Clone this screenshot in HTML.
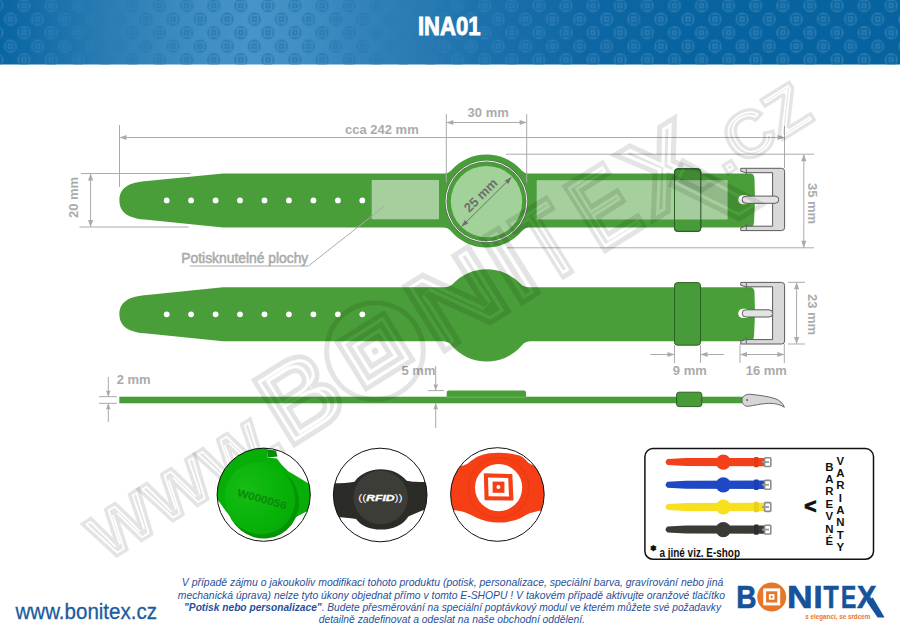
<!DOCTYPE html>
<html lang="cs"><head><meta charset="utf-8"><title>INA01</title>
<style>html,body{margin:0;padding:0;background:#fff}body{width:900px;height:633px;overflow:hidden;position:relative;font-family:"Liberation Sans", Arial, sans-serif}svg{display:block;position:absolute;left:0;top:0}text{font-family:"Liberation Sans", Arial, sans-serif}</style>
</head><body>
<svg width="900" height="633" viewBox="0 0 900 633">
<defs>
<linearGradient id="hg" x1="0" y1="0" x2="1" y2="0"><stop offset="0" stop-color="#0865a3"/><stop offset="0.117" stop-color="#2a7cb3"/><stop offset="0.20" stop-color="#3c8bc0"/><stop offset="0.28" stop-color="#4893c7"/><stop offset="0.33" stop-color="#428fc4"/><stop offset="0.38" stop-color="#3787be"/><stop offset="0.453" stop-color="#2a7cb3"/><stop offset="0.55" stop-color="#1a70ab"/><stop offset="0.65" stop-color="#0e67a4"/><stop offset="0.75" stop-color="#0864a0"/><stop offset="1" stop-color="#06639f"/></linearGradient>
<pattern id="pt" x="10.45" y="-7.8" width="27.1" height="27" patternUnits="userSpaceOnUse">
<path d="M6.85,13.5a6.7,6.7 0 1,0 13.4,0a6.7,6.7 0 1,0 -13.4,0zM9.30,9.25h8.50v8.50h-8.50zM10.65,10.60h5.80v5.80h-5.80zM12.75,12.70h1.60v1.60h-1.60z" fill="#2a7cb3" fill-opacity="0.85" fill-rule="evenodd"/>
<path d="M-6.70,27a6.7,6.7 0 1,0 13.4,0a6.7,6.7 0 1,0 -13.4,0zM-4.25,22.75h8.50v8.50h-8.50zM-2.90,24.10h5.80v5.80h-5.80zM-0.80,26.20h1.60v1.60h-1.60z" fill="#2a7cb3" fill-opacity="0.85" fill-rule="evenodd"/>
<path d="M20.40,27a6.7,6.7 0 1,0 13.4,0a6.7,6.7 0 1,0 -13.4,0zM22.85,22.75h8.50v8.50h-8.50zM24.20,24.10h5.80v5.80h-5.80zM26.30,26.20h1.60v1.60h-1.60z" fill="#2a7cb3" fill-opacity="0.85" fill-rule="evenodd"/>
<path d="M-6.70,0a6.7,6.7 0 1,0 13.4,0a6.7,6.7 0 1,0 -13.4,0zM-4.25,-4.25h8.50v8.50h-8.50zM-2.90,-2.90h5.80v5.80h-5.80zM-0.80,-0.80h1.60v1.60h-1.60z" fill="#2a7cb3" fill-opacity="0.85" fill-rule="evenodd"/>
<path d="M20.40,0a6.7,6.7 0 1,0 13.4,0a6.7,6.7 0 1,0 -13.4,0zM22.85,-4.25h8.50v8.50h-8.50zM24.20,-2.90h5.80v5.80h-5.80zM26.30,-0.80h1.60v1.60h-1.60z" fill="#2a7cb3" fill-opacity="0.85" fill-rule="evenodd"/>
</pattern>
<clipPath id="c1"><circle cx="263.7" cy="494.7" r="46.6"/></clipPath>
<clipPath id="c2"><circle cx="380.2" cy="495" r="46.8"/></clipPath>
<clipPath id="c3"><circle cx="497.4" cy="494.5" r="46.8"/></clipPath>
</defs>
<rect x="0" y="0" width="900" height="64.5" fill="url(#hg)"/>
<rect x="0" y="0" width="900" height="64.5" fill="url(#pt)"/>
<text x="449.2" y="34.8" font-size="25.7" font-weight="700" fill="#fff" stroke="#fff" stroke-width="0.9" text-anchor="middle" textLength="62.5" lengthAdjust="spacingAndGlyphs">INA01</text>
<line x1="119.5" y1="125" x2="119.5" y2="187" stroke="#ababab" stroke-width="1"/>
<line x1="784.5" y1="126" x2="784.5" y2="168" stroke="#ababab" stroke-width="1"/>
<line x1="119.5" y1="137.5" x2="784.5" y2="137.5" stroke="#ababab" stroke-width="1"/>
<polygon points="119.5,137.5 126.5,134.9 126.5,140.1" fill="#ababab"/>
<polygon points="784.5,137.5 777.5,140.1 777.5,134.9" fill="#ababab"/>
<text x="345" y="134.2" font-size="13" font-weight="700" fill="#ababab">cca 242 mm</text>
<line x1="446.3" y1="122.5" x2="526.7" y2="122.5" stroke="#ababab" stroke-width="1"/>
<polygon points="446.3,122.5 453.3,119.9 453.3,125.1" fill="#ababab"/>
<polygon points="526.7,122.5 519.7,125.1 519.7,119.9" fill="#ababab"/>
<text x="488.2" y="117.2" font-size="13" font-weight="700" fill="#ababab" text-anchor="middle">30 mm</text>
<line x1="81" y1="173.5" x2="190.5" y2="173.5" stroke="#ababab" stroke-width="1"/>
<line x1="79.5" y1="227" x2="188.5" y2="227" stroke="#ababab" stroke-width="1"/>
<line x1="90.6" y1="173.5" x2="90.6" y2="227" stroke="#ababab" stroke-width="1"/>
<polygon points="90.6,173.5 93.2,180.5 88.0,180.5" fill="#ababab"/>
<polygon points="90.6,227.0 88.0,220.0 93.2,220.0" fill="#ababab"/>
<text transform="translate(78.4,197.5) rotate(-90)" font-size="13" font-weight="700" fill="#ababab" text-anchor="middle">20 mm</text>
<line x1="506" y1="154.2" x2="814" y2="154.2" stroke="#ababab" stroke-width="1"/>
<line x1="507" y1="247.8" x2="814" y2="247.8" stroke="#ababab" stroke-width="1"/>
<line x1="803.8" y1="154.2" x2="803.8" y2="247.8" stroke="#ababab" stroke-width="1"/>
<polygon points="803.8,154.2 806.4,161.2 801.2,161.2" fill="#ababab"/>
<polygon points="803.8,247.8 801.2,240.8 806.4,240.8" fill="#ababab"/>
<text transform="translate(808.3,203.5) rotate(90)" font-size="13" font-weight="700" fill="#ababab" text-anchor="middle">35 mm</text>
<line x1="788" y1="282.3" x2="805" y2="282.3" stroke="#ababab" stroke-width="1"/>
<line x1="788" y1="344" x2="805" y2="344" stroke="#ababab" stroke-width="1"/>
<line x1="796.6" y1="282.3" x2="796.6" y2="344" stroke="#ababab" stroke-width="1"/>
<polygon points="796.6,282.3 799.2,289.3 794.0,289.3" fill="#ababab"/>
<polygon points="796.6,344.0 794.0,337.0 799.2,337.0" fill="#ababab"/>
<text transform="translate(808.3,314.5) rotate(90)" font-size="13" font-weight="700" fill="#ababab" text-anchor="middle">23 mm</text>
<line x1="674.5" y1="345" x2="674.5" y2="363" stroke="#ababab" stroke-width="1"/>
<line x1="700.5" y1="345" x2="700.5" y2="363" stroke="#ababab" stroke-width="1"/>
<line x1="650.3" y1="354.5" x2="674.5" y2="354.5" stroke="#ababab" stroke-width="1"/>
<line x1="700.5" y1="354.5" x2="724" y2="354.5" stroke="#ababab" stroke-width="1"/>
<polygon points="674.5,354.5 667.5,357.1 667.5,351.9" fill="#ababab"/>
<polygon points="700.5,354.5 707.5,351.9 707.5,357.1" fill="#ababab"/>
<text x="689.8" y="375.3" font-size="13" font-weight="700" fill="#ababab" text-anchor="middle">9 mm</text>
<line x1="740" y1="344" x2="740" y2="363" stroke="#ababab" stroke-width="1"/>
<line x1="784.3" y1="344" x2="784.3" y2="363" stroke="#ababab" stroke-width="1"/>
<line x1="740" y1="354.5" x2="784.3" y2="354.5" stroke="#ababab" stroke-width="1"/>
<polygon points="740.0,354.5 747.0,351.9 747.0,357.1" fill="#ababab"/>
<polygon points="784.3,354.5 777.3,357.1 777.3,351.9" fill="#ababab"/>
<text x="766.3" y="375.3" font-size="13" font-weight="700" fill="#ababab" text-anchor="middle">16 mm</text>
<line x1="99" y1="396.7" x2="117" y2="396.7" stroke="#ababab" stroke-width="1"/>
<line x1="99" y1="403.3" x2="117" y2="403.3" stroke="#ababab" stroke-width="1"/>
<line x1="108.3" y1="377" x2="108.3" y2="396.7" stroke="#ababab" stroke-width="1"/>
<line x1="108.3" y1="403.3" x2="108.3" y2="422" stroke="#ababab" stroke-width="1"/>
<polygon points="108.3,396.7 106.0,390.7 110.6,390.7" fill="#ababab"/>
<polygon points="108.3,403.3 110.6,409.3 106.0,409.3" fill="#ababab"/>
<text x="116.7" y="383.7" font-size="13" font-weight="700" fill="#ababab">2 mm</text>
<line x1="428" y1="390.6" x2="444" y2="390.6" stroke="#ababab" stroke-width="1"/>
<line x1="435.7" y1="366" x2="435.7" y2="390.6" stroke="#ababab" stroke-width="1"/>
<line x1="435.7" y1="403.3" x2="435.7" y2="428" stroke="#ababab" stroke-width="1"/>
<polygon points="435.7,390.6 433.4,384.6 438.0,384.6" fill="#ababab"/>
<polygon points="435.7,403.3 438.0,409.3 433.4,409.3" fill="#ababab"/>
<text x="401.5" y="374.7" font-size="13" font-weight="700" fill="#ababab">5 mm</text>
<text x="181.3" y="262.9" font-size="14.4" fill="#ababab" stroke="#ababab" stroke-width="0.55" textLength="127" lengthAdjust="spacingAndGlyphs">Potisknutelné plochy</text>
<path d="M223,173.4 L445.00,173.4 A8,8 0 0 0 451.07,170.62 A46.6,46.6 0 0 1 521.73,170.62 A8,8 0 0 0 527.80,173.4 L750.5,173.4 Q754.0,173.4 754.5,178.4 L755.0,200.4 L754.0,222.4 Q753.5,227.4 749.5,227.4 L528.80,227.4 A8,8 0 0 0 522.59,230.36 A46.6,46.6 0 0 1 450.21,230.36 A8,8 0 0 0 444.00,227.4 L223,227.4 L147,219.70000000000002 C129,218.5 119.4,212.9 119.4,200.4 C119.4,187.9 129,182.3 147,181.1 Z" fill="#4a9e39"/>
<circle cx="166.7" cy="200.4" r="2.9" fill="#fff"/>
<circle cx="191.1" cy="200.4" r="2.9" fill="#fff"/>
<circle cx="215.6" cy="200.4" r="2.9" fill="#fff"/>
<circle cx="240.0" cy="200.4" r="2.9" fill="#fff"/>
<circle cx="264.5" cy="200.4" r="2.9" fill="#fff"/>
<circle cx="288.9" cy="200.4" r="2.9" fill="#fff"/>
<circle cx="313.4" cy="200.4" r="2.9" fill="#fff"/>
<circle cx="337.9" cy="200.4" r="2.9" fill="#fff"/>
<circle cx="362.3" cy="200.4" r="2.9" fill="#fff"/>
<rect x="674.5" y="168.8" width="26.3" height="62.6" rx="3" fill="#479b38" stroke="#2c5f25" stroke-width="1"/>
<rect x="371.7" y="180" width="67.3" height="39.3" fill="#fff" fill-opacity="0.5"/>
<rect x="536.7" y="180.2" width="190.9" height="39.3" fill="#fff" fill-opacity="0.5"/>
<line x1="446.3" y1="114" x2="446.3" y2="182.5" stroke="#ababab" stroke-width="1"/>
<line x1="526.7" y1="114" x2="526.7" y2="182.5" stroke="#ababab" stroke-width="1"/>
<circle cx="486.4" cy="201.4" r="40.4" fill="none" stroke="#5a6b55" stroke-width="2.2"/>
<circle cx="486.4" cy="201.4" r="40.4" fill="none" stroke="#f4f6f2" stroke-width="1"/>
<circle cx="486.5" cy="201.6" r="35.7" fill="#a3d19a"/>
<line x1="461.6" y1="226.6" x2="511.5" y2="177.2" stroke="#6f6f6f" stroke-width="1"/>
<polygon points="461.6,226.6 464.8,219.9 468.3,223.4" fill="#6f6f6f"/>
<polygon points="511.5,177.2 508.3,183.9 504.8,180.4" fill="#6f6f6f"/>
<text transform="translate(483.9,198.5) rotate(-45)" font-size="13" font-weight="700" fill="#6f6f6f" text-anchor="middle">25 mm</text>
<polyline points="189.6,266 308.4,266 384,206.5" fill="none" stroke="#ababab" stroke-width="1"/>
<rect x="674.5" y="168.8" width="26.3" height="62.6" rx="3" fill="none" stroke="#2c5f25" stroke-width="1"/>
<rect x="738.2" y="195.1" width="12" height="9.2" rx="4.6" fill="#fff"/><path d="M740.8,168.3 L781.6,168.3 Q784.6,168.3 784.6,171.3 L784.6,227.6 Q784.6,230.6 781.6,230.6 L740.8,230.6 L740.8,227.7 L745.8,226.2 L772.6,226.2 L772.6,172.70000000000002 L745.8,172.70000000000002 L740.8,171.20000000000002 Z" fill="#d9d9d9" stroke="#5b5b5b" stroke-width="1" stroke-linejoin="round"/><line x1="746.3" y1="168.8" x2="746.3" y2="174.70000000000002" stroke="#5b5b5b" stroke-width="0.9"/><line x1="746.3" y1="230.1" x2="746.3" y2="224.2" stroke="#5b5b5b" stroke-width="0.9"/><rect x="742.2" y="196.1" width="36.5" height="7.2" rx="3.6" fill="#e3e3e3" stroke="#5b5b5b" stroke-width="1"/>
<path d="M223,287.3 L444.52,287.3 A12,12 0 0 0 453.22,283.57 A46.2,46.2 0 0 1 520.18,283.57 A12,12 0 0 0 528.88,287.3 L750.5,287.3 Q754.0,287.3 754.5,292.3 L755.0,314.3 L754.0,336.3 Q753.5,341.3 749.5,341.3 L530.87,341.3 A12,12 0 0 0 521.76,345.49 A46.2,46.2 0 0 1 451.64,345.49 A12,12 0 0 0 442.53,341.3 L223,341.3 L147,333.59999999999997 C129,332.4 119.4,326.8 119.4,314.3 C119.4,301.8 129,296.20000000000005 147,295.00000000000006 Z" fill="#4a9e39"/>
<circle cx="166.7" cy="314.3" r="2.9" fill="#fff"/>
<circle cx="191.1" cy="314.3" r="2.9" fill="#fff"/>
<circle cx="215.6" cy="314.3" r="2.9" fill="#fff"/>
<circle cx="240.0" cy="314.3" r="2.9" fill="#fff"/>
<circle cx="264.5" cy="314.3" r="2.9" fill="#fff"/>
<circle cx="288.9" cy="314.3" r="2.9" fill="#fff"/>
<circle cx="313.4" cy="314.3" r="2.9" fill="#fff"/>
<circle cx="337.9" cy="314.3" r="2.9" fill="#fff"/>
<circle cx="362.3" cy="314.3" r="2.9" fill="#fff"/>
<rect x="674.5" y="282.6" width="26" height="62.6" rx="3" fill="#479b38" stroke="#2c5f25" stroke-width="1"/>
<rect x="738.2" y="308.79999999999995" width="12" height="9.2" rx="4.6" fill="#fff"/><path d="M740.8,282.4 L781.6,282.4 Q784.6,282.4 784.6,285.4 L784.6,341 Q784.6,344 781.6,344 L740.8,344 L740.8,341.1 L745.8,339.6 L772.6,339.6 L772.6,286.79999999999995 L745.8,286.79999999999995 L740.8,285.29999999999995 Z" fill="#d9d9d9" stroke="#5b5b5b" stroke-width="1" stroke-linejoin="round"/><line x1="746.3" y1="282.9" x2="746.3" y2="288.79999999999995" stroke="#5b5b5b" stroke-width="0.9"/><line x1="746.3" y1="343.5" x2="746.3" y2="337.6" stroke="#5b5b5b" stroke-width="0.9"/><rect x="742.2" y="309.79999999999995" width="30.5" height="7.2" rx="3.6" fill="#e3e3e3" stroke="#5b5b5b" stroke-width="1"/>
<rect x="119.3" y="396.7" width="624" height="6.6" fill="#4a9e39"/>
<path d="M446.7,397.4 L446.7,392.6 Q446.7,390.6 448.7,390.6 L524,390.6 Q526,390.6 526,392.6 L526,397.4 Z" fill="#4a9e39"/>
<line x1="447" y1="397.2" x2="526" y2="397.2" stroke="#7fc070" stroke-width="0.7"/>
<rect x="676.6" y="392.2" width="25.2" height="14.4" rx="2.5" fill="#479b38" stroke="#2c5f25" stroke-width="1"/>
<path d="M742,399.8 C742.5,396 746,394 750,394.3 C758,394.9 768,396.4 775,398.6 C780,400.3 783,403.5 784.4,407.2 C780,404.6 775,403.2 769,403.3 C761,403.6 754,405.6 748,406.3 C744.5,406.6 741.8,403.5 742,399.8 Z" fill="#d6d6d6" stroke="#5b5b5b" stroke-width="0.9"/>
<circle cx="747.2" cy="400" r="0.9" fill="#555"/><mask id="wmm" maskUnits="userSpaceOnUse" x="0" y="0" width="900" height="633"><rect width="900" height="633" fill="#000"/><g transform="translate(106.2,562.6) rotate(-32.0)"><text x="0" y="0" font-size="66" font-weight="700" textLength="214" lengthAdjust="spacingAndGlyphs" fill="#fff" stroke="#000" stroke-width="6.8" stroke-linejoin="miter">WWW.</text><text x="729" y="0" font-size="66" font-weight="700" textLength="108" lengthAdjust="spacingAndGlyphs" fill="#fff" stroke="#000" stroke-width="6.8" stroke-linejoin="miter">.CZ</text><text x="215.1" y="0" font-size="110.4" font-weight="700" textLength="74.6" lengthAdjust="spacingAndGlyphs" fill="#fff" stroke="#000" stroke-width="11.2" stroke-linejoin="miter">B</text><text x="391.1" y="0" font-size="110.4" font-weight="700" textLength="91.6" lengthAdjust="spacingAndGlyphs" fill="#fff" stroke="#000" stroke-width="11.2" stroke-linejoin="miter">N</text><text x="482.0" y="0" font-size="110.4" font-weight="700" textLength="36.1" lengthAdjust="spacingAndGlyphs" fill="#fff" stroke="#000" stroke-width="11.2" stroke-linejoin="miter">I</text><text x="520.1" y="0" font-size="110.4" font-weight="700" textLength="47.7" lengthAdjust="spacingAndGlyphs" fill="#fff" stroke="#000" stroke-width="11.2" stroke-linejoin="miter">T</text><text x="582.4" y="0" font-size="110.4" font-weight="700" textLength="55.9" lengthAdjust="spacingAndGlyphs" fill="#fff" stroke="#000" stroke-width="11.2" stroke-linejoin="miter">E</text><text x="644.0" y="0" font-size="110.4" font-weight="700" textLength="77.1" lengthAdjust="spacingAndGlyphs" fill="#fff" stroke="#000" stroke-width="11.2" stroke-linejoin="miter">X</text><path d="M679,-21 L702,-35 L746,44 L719,44 Z" fill="#fff" stroke="#000" stroke-width="11.2" stroke-linejoin="miter"/></g></mask>
<g transform="translate(106.2,562.6) rotate(-32.0)"><text x="0" y="0" font-size="66" font-weight="700" textLength="214" lengthAdjust="spacingAndGlyphs" fill="none" stroke="#000" stroke-opacity="0.105" stroke-width="3.4" stroke-linejoin="miter" stroke-miterlimit="2.2">WWW.</text><text x="729" y="0" font-size="66" font-weight="700" textLength="108" lengthAdjust="spacingAndGlyphs" fill="none" stroke="#000" stroke-opacity="0.105" stroke-width="3.4" stroke-linejoin="miter" stroke-miterlimit="2.2">.CZ</text><text x="215.1" y="0" font-size="110.4" font-weight="700" textLength="74.6" lengthAdjust="spacingAndGlyphs" fill="none" stroke="#000" stroke-opacity="0.105" stroke-width="5.0" stroke-linejoin="miter" stroke-miterlimit="2.2">B</text><text x="391.1" y="0" font-size="110.4" font-weight="700" textLength="91.6" lengthAdjust="spacingAndGlyphs" fill="none" stroke="#000" stroke-opacity="0.105" stroke-width="5.0" stroke-linejoin="miter" stroke-miterlimit="2.2">N</text><text x="482.0" y="0" font-size="110.4" font-weight="700" textLength="36.1" lengthAdjust="spacingAndGlyphs" fill="none" stroke="#000" stroke-opacity="0.105" stroke-width="5.0" stroke-linejoin="miter" stroke-miterlimit="2.2">I</text><text x="520.1" y="0" font-size="110.4" font-weight="700" textLength="47.7" lengthAdjust="spacingAndGlyphs" fill="none" stroke="#000" stroke-opacity="0.105" stroke-width="5.0" stroke-linejoin="miter" stroke-miterlimit="2.2">T</text><text x="582.4" y="0" font-size="110.4" font-weight="700" textLength="55.9" lengthAdjust="spacingAndGlyphs" fill="none" stroke="#000" stroke-opacity="0.105" stroke-width="5.0" stroke-linejoin="miter" stroke-miterlimit="2.2">E</text><text x="644.0" y="0" font-size="110.4" font-weight="700" textLength="77.1" lengthAdjust="spacingAndGlyphs" fill="none" stroke="#000" stroke-opacity="0.105" stroke-width="5.0" stroke-linejoin="miter" stroke-miterlimit="2.2">X</text><path d="M679,-21 L702,-35 L746,44 L719,44 Z" fill="none" stroke="#000" stroke-opacity="0.105" stroke-width="5.0" stroke-linejoin="miter" stroke-miterlimit="2.2"/><circle cx="340.0" cy="-36.9" r="48.3" fill="none" stroke="#000" stroke-opacity="0.105" stroke-width="5.0" stroke-linejoin="miter" stroke-miterlimit="2.2"/><rect x="312.6" y="-64.3" width="54.8" height="54.8" fill="none" stroke="#000" stroke-opacity="0.105" stroke-width="5.0" stroke-linejoin="miter" stroke-miterlimit="2.2"/><rect x="320.8" y="-56.1" width="38.4" height="38.4" fill="none" stroke="#000" stroke-opacity="0.105" stroke-width="5.0" stroke-linejoin="miter" stroke-miterlimit="2.2"/><rect x="329.0" y="-47.9" width="22.0" height="22.0" fill="none" stroke="#000" stroke-opacity="0.105" stroke-width="5.0" stroke-linejoin="miter" stroke-miterlimit="2.2"/><circle cx="340.0" cy="-36.9" r="3.4" fill="#000" fill-opacity="0.105"/></g>
<rect x="0" y="64.5" width="900" height="568.5" fill="#000" fill-opacity="0.105" mask="url(#wmm)"/>
<defs><radialGradient id="g1f" cx="0.4" cy="0.3" r="0.8"><stop offset="0" stop-color="#16bd14"/><stop offset="0.6" stop-color="#08b308"/><stop offset="1" stop-color="#05a905"/></radialGradient></defs>
<g clip-path="url(#c1)">
<rect x="215" y="446" width="98" height="98" fill="#fff"/>
<path d="M211.7,492.1 L217.0,498.7 L226.5,512.1 L236.1,523.1 L262.1,526.9 L293.4,518.5 L302.1,513.8 L314.3,508.1 L314.3,486.9 L300.4,478.6 L288.2,471.3 L281.2,464.3 L276.9,458.4 L267.3,457.4 L267.3,445.2 L210.0,445.2 Z" fill="#07ae07"/>
<path d="M267,449.5 L276,450.5 L277.5,456.5 L267.5,457.4 Z" fill="#0a8a0a"/>
<ellipse cx="262.6" cy="501.6" rx="36" ry="37.3" transform="rotate(-30 262.6 501.6)" fill="#059305"/>
<ellipse cx="260" cy="498.2" rx="35" ry="36.4" transform="rotate(-30 260 498.2)" fill="url(#g1f)"/>
<text transform="translate(261,502.6) rotate(15.5)" font-size="10.6" font-weight="700" fill="#0b8a0b" text-anchor="middle" textLength="51" lengthAdjust="spacingAndGlyphs">W000056</text>
</g>
<circle cx="263.7" cy="494.7" r="46.6" fill="none" stroke="#111" stroke-width="1"/>
<g clip-path="url(#c2)">
<rect x="331" y="446" width="98" height="98" fill="#fff"/>
<path d="M330,483.3 C340,483.4 348,483 354.5,481.7 C361,473 371,469.3 380.6,469.3 C391,469.3 400,473 406.7,480.8 C414,482.3 421,482 430,481.6 L430,508 C422,510.5 414,514 408.4,516.5 C403,525 393,529.6 381,529.6 C369,529.6 361,525.5 356,519 C348,518 340,517.2 330,516.4 Z" fill="#2b2b27"/>
<ellipse cx="380.7" cy="497.4" rx="27.2" ry="26.8" fill="#3d3d38"/>
<text x="380.4" y="500.5" font-size="9.2" font-style="italic" fill="#fff" text-anchor="middle" textLength="44.5" lengthAdjust="spacingAndGlyphs"><tspan font-style="normal">((</tspan><tspan font-weight="700" stroke="#fff" stroke-width="0.35">RFID</tspan><tspan font-style="normal">))</tspan></text>
</g>
<circle cx="380.2" cy="495" r="46.8" fill="none" stroke="#111" stroke-width="1"/>
<g clip-path="url(#c3)">
<rect x="448" y="446" width="98" height="98" fill="#fff"/>
<path d="M448,468.2 L460.4,466 C465,465.5 467,464.2 469,462.6 C472,460 475,458 477.8,456.5 C484,453.6 491,452.8 498.6,452.8 C506,452.8 513,453.6 519.5,455.6 C523,457 526,460 528.1,462.6 C531,465 534,465.8 536.8,466.2 L547,470 L547,509.3 C538,510.8 531,512.5 526.4,514.7 C521,518 517,519.8 512.5,520.8 C508,522 503,522.6 498.6,522.6 C491,522.6 484,521 477.8,518.2 C473,516 468,513.5 463.9,512.1 C459,510.5 454,509.8 448,509.4 Z" fill="#f63f14"/>
<circle cx="498.6" cy="487.8" r="30.2" fill="none" stroke="#e63a11" stroke-width="1"/>
<circle cx="498.6" cy="487.6" r="23.6" fill="#fff"/>
<path d="M483.8,473.3 L512.3,474 L513.5,500.6 L484.6,500.2 Z" fill="#f63f14"/>
<path d="M488,477.5 L508.2,478 L509,496.6 L488.6,496.2 Z" fill="#fff"/>
<rect x="492.6" y="481.6" width="11.8" height="11.2" fill="#f63f14"/>
<circle cx="498.4" cy="487.1" r="2" fill="#fff"/>
</g>
<circle cx="497.4" cy="494.5" r="46.8" fill="none" stroke="#111" stroke-width="1"/>
<rect x="644.9" y="448.6" width="228.6" height="110.6" rx="8" fill="#fff" stroke="#111" stroke-width="1.5"/>
<path d="M667.5,459.1 Q663.6,462.1 667.5,465.1 L686,466.1 L764.5,466.3 L764.5,457.90000000000003 L686,458.1 Z" fill="#f4401a"/><circle cx="723.3" cy="462.1" r="7.6" fill="#f4401a"/><rect x="754" y="456.90000000000003" width="4.6" height="10.4" rx="1" fill="#e23a16"/><rect x="764.6" y="457.70000000000005" width="6.2" height="8.8" rx="0.8" fill="none" stroke="#8d8d8d" stroke-width="1.6"/><rect x="762" y="461.20000000000005" width="7" height="1.8" fill="#9a9a9a"/>
<path d="M667.5,481.8 Q663.6,484.8 667.5,487.8 L686,488.8 L764.5,489.0 L764.5,480.6 L686,480.8 Z" fill="#1f49c4"/><circle cx="723.3" cy="484.8" r="7.6" fill="#1f49c4"/><rect x="754" y="479.6" width="4.6" height="10.4" rx="1" fill="#1b40b0"/><rect x="764.6" y="480.40000000000003" width="6.2" height="8.8" rx="0.8" fill="none" stroke="#8d8d8d" stroke-width="1.6"/><rect x="762" y="483.90000000000003" width="7" height="1.8" fill="#9a9a9a"/>
<path d="M667.5,504 Q663.6,507 667.5,510 L686,511.0 L764.5,511.2 L764.5,502.8 L686,503.0 Z" fill="#f7e01f"/><circle cx="723.3" cy="507" r="7.6" fill="#f7e01f"/><rect x="754" y="501.8" width="4.6" height="10.4" rx="1" fill="#e8d21c"/><rect x="764.6" y="502.6" width="6.2" height="8.8" rx="0.8" fill="none" stroke="#8d8d8d" stroke-width="1.6"/><rect x="762" y="506.1" width="7" height="1.8" fill="#9a9a9a"/>
<path d="M667.5,526.6 Q663.6,529.6 667.5,532.6 L686,533.6 L764.5,533.8000000000001 L764.5,525.4 L686,525.6 Z" fill="#3a3a37"/><circle cx="723.3" cy="529.6" r="7.6" fill="#3a3a37"/><rect x="754" y="524.4" width="4.6" height="10.4" rx="1" fill="#2e2e2c"/><rect x="764.6" y="525.2" width="6.2" height="8.8" rx="0.8" fill="none" stroke="#8d8d8d" stroke-width="1.6"/><rect x="762" y="528.7" width="7" height="1.8" fill="#9a9a9a"/>
<text x="810.3" y="513.2" font-size="21" font-weight="700" fill="#111" stroke="#111" stroke-width="0.9" text-anchor="middle">&lt;</text>
<text x="829.3" y="470.6" font-size="11.4" font-weight="700" fill="#111" text-anchor="middle">B</text>
<text x="829.3" y="483.0" font-size="11.4" font-weight="700" fill="#111" text-anchor="middle">A</text>
<text x="829.3" y="495.4" font-size="11.4" font-weight="700" fill="#111" text-anchor="middle">R</text>
<text x="829.3" y="507.7" font-size="11.4" font-weight="700" fill="#111" text-anchor="middle">E</text>
<text x="829.3" y="520.1" font-size="11.4" font-weight="700" fill="#111" text-anchor="middle">V</text>
<text x="829.3" y="532.5" font-size="11.4" font-weight="700" fill="#111" text-anchor="middle">N</text>
<text x="829.3" y="544.9" font-size="11.4" font-weight="700" fill="#111" text-anchor="middle">É</text>
<text x="840.3" y="464.5" font-size="11.4" font-weight="700" fill="#111" text-anchor="middle">V</text>
<text x="840.3" y="476.9" font-size="11.4" font-weight="700" fill="#111" text-anchor="middle">A</text>
<text x="840.3" y="489.2" font-size="11.4" font-weight="700" fill="#111" text-anchor="middle">R</text>
<text x="840.3" y="501.6" font-size="11.4" font-weight="700" fill="#111" text-anchor="middle">I</text>
<text x="840.3" y="513.9" font-size="11.4" font-weight="700" fill="#111" text-anchor="middle">A</text>
<text x="840.3" y="526.3" font-size="11.4" font-weight="700" fill="#111" text-anchor="middle">N</text>
<text x="840.3" y="538.7" font-size="11.4" font-weight="700" fill="#111" text-anchor="middle">T</text>
<text x="840.3" y="551.0" font-size="11.4" font-weight="700" fill="#111" text-anchor="middle">Y</text>
<text x="649.8" y="551.4" font-size="8" font-weight="700" fill="#111">✽</text>
<text x="659.5" y="557.4" font-size="12" font-weight="700" fill="#111" textLength="80.5" lengthAdjust="spacingAndGlyphs">a jiné viz. E-shop</text>
<text x="15.5" y="619" font-size="22.6" fill="#1a5c9e" stroke="#1a5c9e" stroke-width="0.3" textLength="141.5" lengthAdjust="spacingAndGlyphs">www.bonitex.cz</text>
<text x="181.8" y="586.2" font-size="10.6" font-style="italic" fill="#27509a" textLength="541.5" lengthAdjust="spacingAndGlyphs">V případě zájmu o jakoukoliv modifikaci tohoto produktu (potisk, personalizace, speciální barva, gravírování nebo jiná</text>
<text x="177.8" y="598.5" font-size="10.6" font-style="italic" fill="#27509a" textLength="547.2" lengthAdjust="spacingAndGlyphs">mechanická úprava) nelze tyto úkony objednat přímo v tomto E-SHOPU ! V takovém případě aktivujte oranžové tlačítko</text>
<text x="184.0" y="610.9" font-size="10.6" font-style="italic" fill="#27509a" textLength="537.0" lengthAdjust="spacingAndGlyphs"><tspan font-weight="700">"Potisk nebo personalizace"</tspan>. Budete přesměrování na speciální poptávkový modul ve kterém můžete své požadavky</text>
<text x="318.7" y="623.2" font-size="10.6" font-style="italic" fill="#27509a" textLength="266.3" lengthAdjust="spacingAndGlyphs">detailně zadefinovat a odeslat na naše obchodní oddělení.</text>
<text x="736.27" y="607.7" font-size="32" font-weight="700" fill="#17539a" stroke="#17539a" stroke-width="0.7" textLength="20.24" lengthAdjust="spacingAndGlyphs">B</text>
<text x="786.97" y="607.7" font-size="32" font-weight="700" fill="#17539a" stroke="#17539a" stroke-width="0.7" textLength="25.67" lengthAdjust="spacingAndGlyphs">N</text>
<text x="813.56" y="607.7" font-size="32" font-weight="700" fill="#17539a" stroke="#17539a" stroke-width="0.7" textLength="9.07" lengthAdjust="spacingAndGlyphs">I</text>
<text x="823.48" y="607.7" font-size="32" font-weight="700" fill="#17539a" stroke="#17539a" stroke-width="0.7" textLength="15.14" lengthAdjust="spacingAndGlyphs">T</text>
<text x="841.12" y="607.7" font-size="32" font-weight="700" fill="#17539a" stroke="#17539a" stroke-width="0.7" textLength="15.22" lengthAdjust="spacingAndGlyphs">E</text>
<text x="857.09" y="607.7" font-size="32" font-weight="700" fill="#17539a" stroke="#17539a" stroke-width="0.7" textLength="19.42" lengthAdjust="spacingAndGlyphs">X</text>
<circle cx="771.7" cy="596.9" r="14.5" fill="#e8762a"/>
<rect x="763.2" y="588.4" width="17" height="17" fill="#fff"/>
<rect x="766.1" y="591.3" width="11.2" height="11.2" fill="#e8762a"/>
<rect x="768.9" y="594.1" width="5.6" height="5.6" fill="#fff"/>
<circle cx="771.7" cy="596.9" r="1.1" fill="#e8762a"/>
<path d="M866.6,601.2 L872.8,597.6 L884.6,617.6 L877.6,617.6 Z" fill="#17539a"/>
<text x="805.3" y="618.6" font-size="8" font-weight="700" fill="#e8762a" textLength="65" lengthAdjust="spacingAndGlyphs">s elegancí, se srdcem</text>
</svg>
</body></html>
